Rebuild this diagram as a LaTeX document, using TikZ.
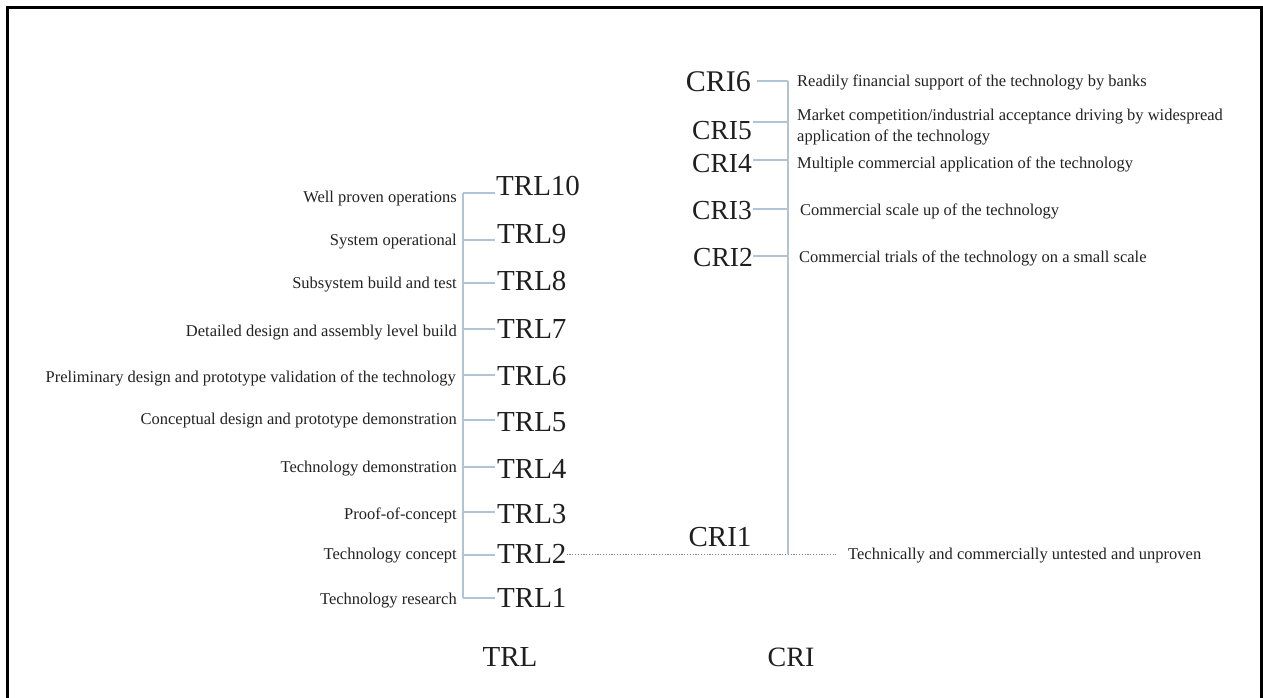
\documentclass[tikz,border=0pt]{standalone}
\usepackage{fontspec}
\setmainfont{Liberation Serif}
\definecolor{brkcol}{RGB}{176,196,214}
\definecolor{dotcol}{RGB}{130,130,130}
\definecolor{txtcol}{RGB}{34,34,34}
\begin{document}
\begin{tikzpicture}[x=1pt,y=-1pt,
  lbl/.style={font=\fontsize{29}{30}\selectfont, text=black!88, inner sep=0pt, text height=19pt, text depth=0pt},
  clbl/.style={font=\fontsize{27.5}{29}\selectfont, text=black!88, inner sep=0pt, text height=18pt, text depth=0pt},
  desc/.style={font=\fontsize{16.5}{19}\selectfont, text=txtcol, inner sep=0pt, text height=11pt, text depth=0pt},
  descml/.style={font=\fontsize{16.5}{21}\selectfont, text=txtcol, inner sep=0pt, align=left},
  brk/.style={draw=brkcol, line width=1.4pt},
  dotl/.style={draw=dotcol, line width=1pt, dash pattern=on 1.2pt off 1.6pt},
]
\useasboundingbox (0,0) rectangle (1263,697);
\fill[white] (0,0) rectangle (1263,697);
% frame
\draw[line width=3pt] (7,705) -- (7,7) -- (1261,7) -- (1261,705);

% ---------- TRL column ----------
\node[lbl, anchor=west] (t10) at (496,186) {TRL10};
\node[lbl, anchor=west] (t9)  at (497,234) {TRL9};
\node[lbl, anchor=west] (t8)  at (497,281) {TRL8};
\node[lbl, anchor=west] (t7)  at (497,329) {TRL7};
\node[lbl, anchor=west] (t6)  at (497,376) {TRL6};
\node[lbl, anchor=west] (t5)  at (497,422) {TRL5};
\node[lbl, anchor=west] (t4)  at (497,469) {TRL4};
\node[lbl, anchor=west] (t3)  at (497,514) {TRL3};
\node[lbl, anchor=west] (t2)  at (497,554) {TRL2};
\node[lbl, anchor=west] (t1)  at (497,598) {TRL1};

\node[desc, anchor=east] (d10) at (457,197) {Well proven operations};
\node[desc, anchor=east] (d9)  at (457,240) {System operational};
\node[desc, anchor=east] (d8)  at (457,283) {Subsystem build and test};
\node[desc, anchor=east] (d7)  at (457,331) {Detailed design and assembly level build};
\node[desc, anchor=east] (d6)  at (456,377) {Preliminary design and prototype validation of the technology};
\node[desc, anchor=east] (d5)  at (457,419) {Conceptual design and prototype demonstration};
\node[desc, anchor=east] (d4)  at (457,467) {Technology demonstration};
\node[desc, anchor=east] (d3)  at (457,514) {Proof-of-concept};
\node[desc, anchor=east] (d2)  at (457,554) {Technology concept};
\node[desc, anchor=east] (d1)  at (457,599) {Technology research};

\coordinate (ktop) at (463,193);
\coordinate (kbot) at (463,598);
\draw[brk] (ktop) -- (kbot);
\foreach \yy in {193,240,283,329,375,420,467,512,555,598}
  \draw[brk] (463,\yy) -- (495,\yy);

% ---------- CRI column ----------
\node[font=\fontsize{30}{31}\selectfont, text=black!88, inner sep=0pt, text height=19.8pt, text depth=0pt, anchor=east] (c6) at (751,82) {CRI6};
\node[clbl, anchor=east] (c5) at (752,130) {CRI5};
\node[clbl, anchor=east] (c4) at (752,163) {CRI4};
\node[clbl, anchor=east] (c3) at (752,210) {CRI3};
\node[clbl, anchor=east] (c2) at (753,257) {CRI2};
\node[lbl] (c1) at (720,537) {CRI1};

\node[desc, anchor=west] (r6) at (797,81) {Readily financial support of the technology by banks};
\node[descml, anchor=north west] (r5) at (797,109) {Market competition/industrial acceptance driving by widespread\\application of the technology};
\node[desc, anchor=west] (r4) at (797,163) {Multiple commercial application of the technology};
\node[desc, anchor=west] (r3) at (800,210) {Commercial scale up of the technology};
\node[desc, anchor=west] (r2) at (799,257) {Commercial trials of the technology on a small scale};
\node[desc, anchor=west] (r1) at (848,554) {Technically and commercially untested and unproven};

\coordinate (ctop) at (788,81);
\coordinate (cbot) at (788,554);
\draw[brk] (ctop) -- (cbot);
\draw[brk] (757,81) -- (ctop);
\foreach \yy in {122,160,209,256}
  \draw[brk] (753,\yy) -- (788,\yy);

% dotted connector TRL2 -- untested description
\draw[dotl, shorten >=12pt] (t2.east) -- (r1.west);

% ---------- bottom labels ----------
\node[lbl] (trlax) at (510,657) {TRL};
\node[font=\fontsize{28}{29}\selectfont, text=black!88, inner sep=0pt, text height=18.5pt, text depth=0pt] (criax) at (791,657) {CRI};
\end{tikzpicture}
\end{document}
